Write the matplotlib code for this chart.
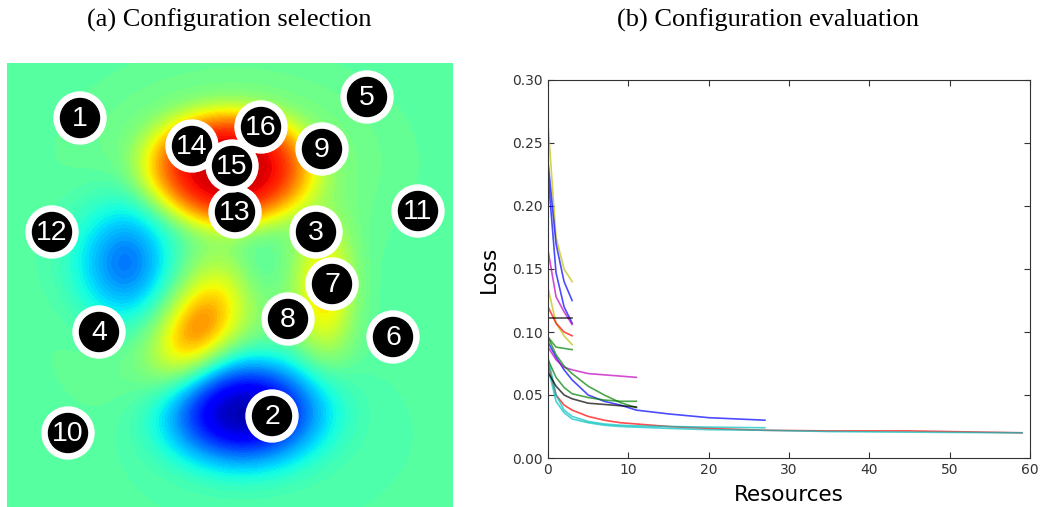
import numpy as np
import matplotlib
matplotlib.use("Agg")
import matplotlib.pyplot as plt
from matplotlib.patches import Circle

# ---- left panel: configuration points (panel units, 446 x 444, y down)
config_id = [str(i) for i in range(1, 17)]
config_x = [73, 265, 309, 92, 360, 386, 325, 281, 315, 61, 411, 45, 228, 185, 225, 254]
config_y = [55, 353, 169, 269, 34, 274, 221, 256, 86, 370, 148, 169, 149, 83, 103, 64]

# bumps of the loss surface: centre x, centre y, amplitude, width along / across, angle, shape
bump_cx = [222, 228, 121, 235, 190, 318, 250, 185]
bump_cy = [105, 97, 202, 347, 267, 227, 200, 255]
bump_amp = [0.40, 0.08, -0.26, -0.43, 0.24, 0.20, -0.06, 0.09]
bump_sx = [58, 95, 37, 55, 42, 20, 22, 80]
bump_sy = [40, 60, 45, 38, 24, 45, 30, 65]
bump_rot = [0, 0, 0, 0, 60, 0, 0, 0]
bump_p = [2.0, 1.0, 1.0, 1.2, 1.0, 1.0, 1.0, 1.0]
base_level = 0.45

# ---- right panel: loss curves
x3 = [0, 1, 2, 3]
x11 = [0, 1, 2, 3, 5, 7, 9, 11]
x27 = [0, 1, 2, 3, 5, 7, 9, 11, 15, 20, 27]
x59 = [0, 1, 2, 3, 5, 7, 9, 11, 15, 20, 27, 35, 45, 59]

short_y1 = [0.265, 0.175, 0.150, 0.140]
short_b1 = [0.235, 0.170, 0.140, 0.125]
short_b2 = [0.225, 0.147, 0.120, 0.107]
short_m = [0.165, 0.128, 0.116, 0.106]
short_y2 = [0.135, 0.107, 0.097, 0.090]
short_r = [0.120, 0.107, 0.100, 0.097]
short_k = [0.111, 0.111, 0.111, 0.111]
short_g = [0.096, 0.088, 0.087, 0.086]

mid_m = [0.088, 0.078, 0.072, 0.070, 0.067, 0.066, 0.065, 0.064]
mid_g1 = [0.096, 0.082, 0.073, 0.067, 0.057, 0.050, 0.044, 0.040]
mid_g2 = [0.078, 0.064, 0.056, 0.051, 0.048, 0.046, 0.045, 0.045]
mid_k = [0.068, 0.057, 0.050, 0.047, 0.0435, 0.0425, 0.0415, 0.0405]

long_b = [0.092, 0.080, 0.070, 0.062, 0.050, 0.045, 0.042, 0.038, 0.035, 0.032, 0.030]
long_c = [0.080, 0.050, 0.038, 0.033, 0.029, 0.027, 0.026, 0.0255, 0.025, 0.0245, 0.024]

full_r = [0.075, 0.050, 0.042, 0.038, 0.033, 0.030, 0.028, 0.027, 0.025, 0.0235,
          0.022, 0.0215, 0.0215, 0.020]
full_c = [0.072, 0.045, 0.036, 0.031, 0.028, 0.026, 0.025, 0.0245, 0.0235, 0.0225,
          0.022, 0.021, 0.0205, 0.020]

fig = plt.figure(figsize=(10.46, 5.07), dpi=100)

# surface
W, H = 446, 444
gx, gy = np.meshgrid(np.linspace(0, W, 300), np.linspace(0, H, 300))
z = np.full_like(gx, base_level)
for cx, cy, a, sx, sy, rot, p in zip(bump_cx, bump_cy, bump_amp, bump_sx, bump_sy,
                                     bump_rot, bump_p):
    t = np.deg2rad(rot)
    dx, dy = gx - cx, gy - cy
    u = dx * np.cos(t) - dy * np.sin(t)
    v = dx * np.sin(t) + dy * np.cos(t)
    q = (u / sx) ** 2 / 2 + (v / sy) ** 2 / 2
    z += a * np.exp(-q ** p)

ax1 = fig.add_axes([7 / 1046, 0, W / 1046, H / 507])
ax1.contourf(gx, gy, z, levels=np.linspace(0, 1, 81), cmap="jet", vmin=0, vmax=1, extend="both")
for cid, cx, cy in zip(config_id, config_x, config_y):
    ax1.add_patch(Circle((cx, cy), 26, color="white", zorder=3))
    ax1.add_patch(Circle((cx, cy), 19.5, color="black", zorder=3))
    ax1.text(cx, cy + 1, cid, color="white", fontsize=20.5, family="Liberation Sans",
             ha="center", va="center", zorder=4)
ax1.set_xlim(0, W)
ax1.set_ylim(H, 0)
ax1.axis("off")

# curves
ax2 = fig.add_axes([548 / 1046, 49 / 507, 482 / 1046, 378 / 507])
a = 0.7
lw = 1.2
ax2.plot(x59, full_r, color="r", alpha=a, lw=lw)
ax2.plot(x59, full_c, color="c", alpha=a, lw=lw)
ax2.plot(x27, long_b, color="b", alpha=a, lw=lw)
ax2.plot(x27, long_c, color="c", alpha=a, lw=lw)
ax2.plot(x11, mid_m, color="m", alpha=a, lw=lw)
ax2.plot(x11, mid_g1, color="g", alpha=a, lw=lw)
ax2.plot(x11, mid_g2, color="g", alpha=a, lw=lw)
ax2.plot(x11, mid_k, color="k", alpha=a, lw=lw)
ax2.plot(x3, short_y1, color="y", alpha=a, lw=lw)
ax2.plot(x3, short_b1, color="b", alpha=a, lw=lw)
ax2.plot(x3, short_b2, color="b", alpha=a, lw=lw)
ax2.plot(x3, short_m, color="m", alpha=a, lw=lw)
ax2.plot(x3, short_y2, color="y", alpha=a, lw=lw)
ax2.plot(x3, short_r, color="r", alpha=a, lw=lw)
ax2.plot(x3, short_k, color="k", alpha=a, lw=lw)
ax2.plot(x3, short_g, color="g", alpha=a, lw=lw)
ax2.set_xlim(0, 60)
ax2.set_ylim(0, 0.30)
ax2.set_xticks([0, 10, 20, 30, 40, 50, 60])
ax2.set_yticks([0, 0.05, 0.10, 0.15, 0.20, 0.25, 0.30])
ax2.set_yticklabels(["0.00", "0.05", "0.10", "0.15", "0.20", "0.25", "0.30"])
ax2.tick_params(direction="in", top=True, right=True, length=4, labelsize=10,
                labelcolor="0.2", color="0.2")
for s in ax2.spines.values():
    s.set_color("0.2")
ax2.set_xlabel("Resources", fontsize=15.5, labelpad=6)
ax2.set_ylabel("Loss", fontsize=15.5, labelpad=10)

fig.text(229 / 1046, 1 - 20 / 507, "(a) Configuration selection", family="Liberation Serif",
         fontsize=19, ha="center", va="center")
fig.text(768 / 1046, 1 - 20 / 507, "(b) Configuration evaluation", family="Liberation Serif",
         fontsize=19, ha="center", va="center")

fig.savefig("out.png", dpi=100)
